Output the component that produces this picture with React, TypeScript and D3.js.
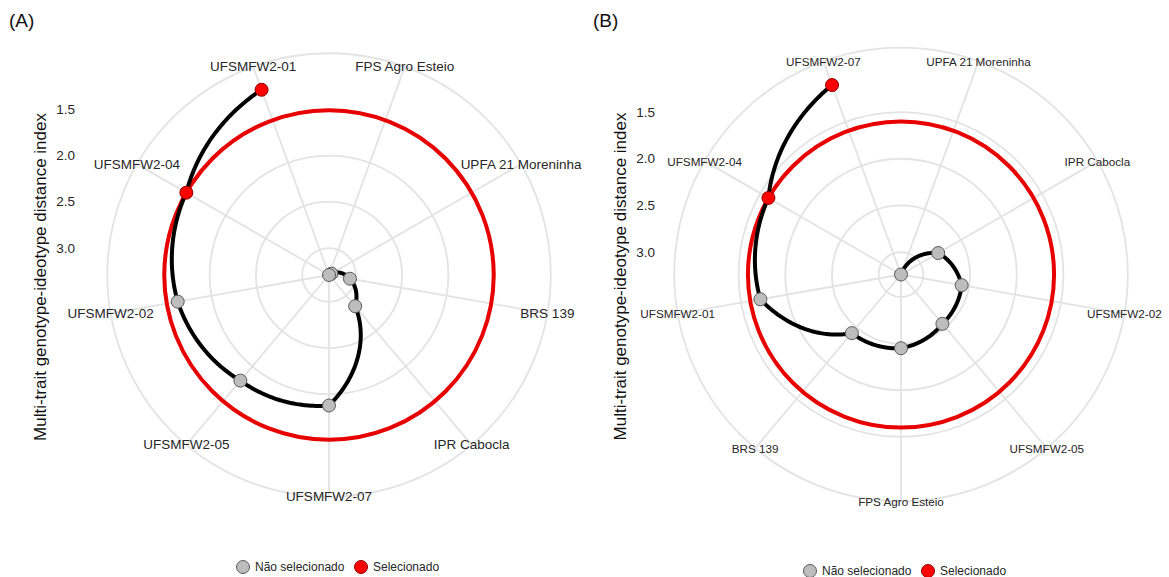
import React from "react";
import * as d3 from "d3";

// ---------- DATA ----------
// Panel A: genotypes in ascending MGIDI order (path order)
const genotypesA = [
  "UFSMFW2-01",
  "UFSMFW2-04",
  "UFSMFW2-02",
  "UFSMFW2-05",
  "UFSMFW2-07",
  "IPR Cabocla",
  "BRS 139",
  "UPFA 21 Moreninha",
  "FPS Agro Esteio",
];
const mgidiA = [1.16, 1.51, 1.63, 1.8, 1.88, 2.85, 3.06, 3.26, 3.29];
const selectedA = [true, true, false, false, false, false, false, false, false];

// Panel B
const genotypesB = [
  "UFSMFW2-07",
  "UFSMFW2-04",
  "UFSMFW2-01",
  "BRS 139",
  "FPS Agro Esteio",
  "UFSMFW2-05",
  "UFSMFW2-02",
  "IPR Cabocla",
  "UPFA 21 Moreninha",
];
const mgidiB = [1.08, 1.6, 1.71, 2.42, 2.45, 2.55, 2.58, 2.78, 3.24];
const selectedB = [true, true, false, false, false, false, false, false, false];

const yTicks = [1.5, 2.0, 2.5, 3.0];
const legendLabels = ["Não selecionado", "Selecionado"];
const yTitle = "Multi-trait genotype-ideotype distance index";

// ---------- STYLE ----------
const FONT = "'Liberation Sans', Arial, Helvetica, sans-serif";
const GRID = "#e3e3e3";
const RED = "#e80000";
const GREY_FILL = "#bdbdbd";
const TEXT = "#262626";

type PanelProps = {
  tag: string;
  genotypes: string[];
  values: number[];
  selected: boolean[];
  cx: number;
  cy: number;
  W: number;
  labelSize: number;
  tagX: number;
  titleX: number;
  tickRight: number;
  legendX: number;
  legendY: number;
};

function Panel(p: PanelProps) {
  const n = p.genotypes.length;
  // ggplot: x = reorder(Genotype, -MGIDI) -> highest MGIDI is x = 1
  const order = d3.range(n).sort((a, b) => p.values[b] - p.values[a]);
  const xPos: number[] = new Array(n);
  order.forEach((idx, k) => (xPos[idx] = k + 1));

  const theta = d3.scaleLinear().domain([0.5, n + 0.5]).range([0, 2 * Math.PI]);
  const [vmin, vmax] = d3.extent(p.values) as [number, number];
  const rScale = d3.scaleLinear().domain([vmax, vmin]).range([0, 0.4 * p.W]);
  const outerR = 0.45 * p.W;

  const cut = d3.max(p.values.filter((_, i) => p.selected[i])) as number;

  // munched path: interpolate linearly in data space, then project
  const pts: [number, number][] = [];
  const steps = 60;
  for (let i = 0; i < n - 1; i++) {
    for (let s = 0; s < steps; s++) {
      const t = s / steps;
      const x = xPos[i] + (xPos[i + 1] - xPos[i]) * t;
      const v = p.values[i] + (p.values[i + 1] - p.values[i]) * t;
      pts.push([theta(x), rScale(v)]);
    }
  }
  pts.push([theta(xPos[n - 1]), rScale(p.values[n - 1])]);
  const radial = d3
    .lineRadial<[number, number]>()
    .angle((d) => d[0])
    .radius((d) => d[1]);

  const polar = (a: number, r: number) => [r * Math.sin(a), -r * Math.cos(a)];

  const cats = d3.range(n).map((i) => ({ name: p.genotypes[i], a: theta(xPos[i]) }));

  return (
    <g>
      <text x={p.tagX} y={27} fontSize={19} fontFamily={FONT} fill="#111">
        {p.tag}
      </text>
      <text
        transform={`translate(${p.titleX},${p.cy + 2}) rotate(-90)`}
        textAnchor="middle"
        dominantBaseline="central"
        fontSize={17}
        fontFamily={FONT}
        fill="#111"
      >
        {yTitle}
      </text>
      {yTicks.map((t) => (
        <text
          key={t}
          x={p.tickRight}
          y={p.cy - rScale(t)}
          textAnchor="end"
          dominantBaseline="central"
          fontSize={13.5}
          fontFamily={FONT}
          fill={TEXT}
        >
          {t.toFixed(1)}
        </text>
      ))}
      <g transform={`translate(${p.cx},${p.cy})`}>
        {/* grid circles */}
        {yTicks.map((t) => (
          <circle key={t} r={rScale(t)} fill="none" stroke={GRID} strokeWidth={1.8} />
        ))}
        <circle r={outerR} fill="none" stroke={GRID} strokeWidth={1.8} />
        {/* spokes */}
        {cats.map((c) => {
          const [x, y] = polar(c.a, outerR);
          return <line key={c.name} x1={0} y1={0} x2={x} y2={y} stroke={GRID} strokeWidth={1.8} />;
        })}
        {/* cutpoint */}
        <circle r={rScale(cut)} fill="none" stroke={RED} strokeWidth={4} />
        {/* path */}
        <path d={radial(pts) || ""} fill="none" stroke="#000" strokeWidth={4} strokeLinejoin="round" />
        {/* points */}
        {p.genotypes.map((g, i) => {
          const [x, y] = polar(theta(xPos[i]), rScale(p.values[i]));
          return (
            <circle
              key={g}
              cx={x}
              cy={y}
              r={6.5}
              fill={p.selected[i] ? "#ff0000" : GREY_FILL}
              stroke={p.selected[i] ? "#8a0000" : "#5a5a5a"}
              strokeWidth={1}
            />
          );
        })}
        {/* category labels */}
        {cats.map((c) => {
          const [x, y] = polar(c.a, outerR);
          return (
            <text
              key={c.name}
              x={x}
              y={y}
              textAnchor="middle"
              dominantBaseline="central"
              fontSize={p.labelSize}
              fontFamily={FONT}
              fill={TEXT}
            >
              {c.name}
            </text>
          );
        })}
      </g>
      {/* legend */}
      <g transform={`translate(${p.legendX},${p.legendY})`} fontFamily={FONT} fontSize={12} fill={TEXT}>
        <circle cx={0} cy={0} r={6.5} fill={GREY_FILL} stroke="#5a5a5a" strokeWidth={1} />
        <text x={12} y={0} dominantBaseline="central">
          {legendLabels[0]}
        </text>
        <circle cx={118} cy={0} r={6.5} fill="#ff0000" stroke="#8a0000" strokeWidth={1} />
        <text x={130} y={0} dominantBaseline="central">
          {legendLabels[1]}
        </text>
      </g>
    </g>
  );
}

export default function App() {
  return (
    <svg
      width={1169}
      height={577}
      style={{ position: "absolute", left: 0, top: 0, background: "#fff" }}
    >
      <rect width={1169} height={577} fill="#fff" />
      <Panel
        tag="(A)"
        genotypes={genotypesA}
        values={mgidiA}
        selected={selectedA}
        cx={329}
        cy={275}
        W={492.8}
        labelSize={13.5}
        tagX={9}
        titleX={40}
        tickRight={75}
        legendX={243}
        legendY={567}
      />
      <Panel
        tag="(B)"
        genotypes={genotypesB}
        values={mgidiB}
        selected={selectedB}
        cx={901}
        cy={274.5}
        W={504}
        labelSize={11.7}
        tagX={593}
        titleX={620}
        tickRight={655}
        legendX={810}
        legendY={571}
      />
    </svg>
  );
}
